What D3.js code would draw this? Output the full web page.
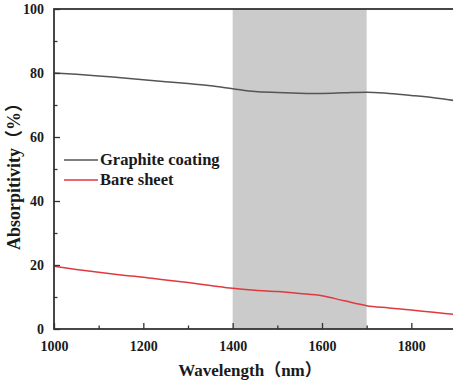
<!DOCTYPE html>
<html>
<head>
<meta charset="utf-8">
<script src="https://cdn.jsdelivr.net/npm/d3@7"></script>
<style>
  html, body { margin: 0; padding: 0; background: #fff; }
  svg { display: block; }
  text { font-family: "Liberation Serif", "Times New Roman", "Noto Sans CJK SC", serif; font-weight: bold; fill: #1a1a1a; }
</style>
</head>
<body>
<svg id="chart" width="453" height="382"></svg>
<script>
// Wavelength samples (nm)
const wavelengths = [1000, 1050, 1100, 1150, 1200, 1250, 1300, 1350, 1400, 1450, 1500, 1550, 1600, 1650, 1700, 1750, 1800, 1850, 1900];
// Absorptivity (%) of the graphite-coated sheet
const graphite = [80.0, 79.6, 79.1, 78.5, 77.9, 77.3, 76.7, 76.0, 75.1, 74.2, 73.9, 73.7, 73.6, 73.8, 74.0, 73.6, 73.0, 72.3, 71.3];
// Absorptivity (%) of the bare sheet
const bare = [19.6, 18.6, 17.7, 16.9, 16.2, 15.3, 14.5, 13.6, 12.7, 12.1, 11.7, 11.1, 10.4, 8.8, 7.3, 6.6, 5.9, 5.2, 4.5];
// Highlighted band (nm)
const band = [1400, 1700];
// Axis ticks
const xTicks = [1000, 1200, 1400, 1600, 1800];
const xMinor = [1100, 1300, 1500, 1700, 1900];
const yTicks = [0, 20, 40, 60, 80, 100];
const yMinor = [10, 30, 50, 70, 90];
const seriesNames = ["Graphite coating", "Bare sheet"];
const seriesColors = ["#555555", "#e0393e"];

const svg = d3.select("#chart");
const plotL = 54, plotR = 456, plotT = 9, plotB = 329;
const serif = "'Liberation Serif', 'Times New Roman', serif";

const x = d3.scaleLinear().domain([1000, 1900]).range([plotL, plotR]);
const y = d3.scaleLinear().domain([0, 100]).range([plotB, plotT]);

// shaded wavelength band
svg.append("rect")
  .attr("x", x(band[0])).attr("y", plotT)
  .attr("width", x(band[1]) - x(band[0])).attr("height", plotB - plotT)
  .attr("fill", "#cbcbcb");

// series lines
const line = d3.line().x((d, i) => x(wavelengths[i])).y(d => y(d)).curve(d3.curveMonotoneX);
[graphite, bare].forEach((vals, k) => {
  svg.append("path").datum(vals)
    .attr("d", line)
    .attr("fill", "none")
    .attr("stroke", seriesColors[k])
    .attr("stroke-width", 1.5);
});

// frame
svg.append("rect")
  .attr("x", plotL).attr("y", plotT)
  .attr("width", plotR - plotL).attr("height", plotB - plotT)
  .attr("fill", "none").attr("stroke", "#333").attr("stroke-width", 1.8);

function styleTicks(g) {
  g.attr("font-family", null);
  g.select(".domain").remove();
  g.selectAll("line").attr("stroke", "#333").attr("stroke-width", 1.3);
  g.selectAll("text").attr("font-size", 14).attr("fill", "#1a1a1a")
    .style("font-family", serif).style("font-weight", "bold");
}

// bottom axis, ticks pointing inward
svg.append("g").attr("transform", `translate(0,${plotB})`)
  .call(d3.axisBottom(x).tickValues(xTicks).tickFormat(d3.format("d")).tickSizeInner(-6).tickSizeOuter(0).tickPadding(12))
  .call(styleTicks);
svg.append("g").attr("transform", `translate(0,${plotB})`)
  .call(d3.axisBottom(x).tickValues(xMinor).tickFormat("").tickSizeInner(-3.5).tickSizeOuter(0))
  .call(styleTicks);

// left axis, ticks pointing inward
svg.append("g").attr("transform", `translate(${plotL},0)`)
  .call(d3.axisLeft(y).tickValues(yTicks).tickFormat(d3.format("d")).tickSizeInner(-6).tickSizeOuter(0).tickPadding(10))
  .call(styleTicks);
svg.append("g").attr("transform", `translate(${plotL},0)`)
  .call(d3.axisLeft(y).tickValues(yMinor).tickFormat("").tickSizeInner(-3.5).tickSizeOuter(0))
  .call(styleTicks);

// axis titles
svg.append("text")
  .attr("x", 250).attr("y", 376)
  .attr("text-anchor", "middle").attr("font-size", 17)
  .text("Wavelength（nm）");
svg.append("text")
  .attr("transform", `translate(20,${(plotT + plotB) / 2 + 3}) rotate(-90)`)
  .attr("text-anchor", "middle").attr("font-size", 18)
  .text("Absorpitivity（%）");

// legend
const legend = svg.append("g");
seriesNames.forEach((name, k) => {
  const ly = 160 + k * 20;
  legend.append("line")
    .attr("x1", 64).attr("x2", 98).attr("y1", ly).attr("y2", ly)
    .attr("stroke", seriesColors[k]).attr("stroke-width", 1.5);
  legend.append("text")
    .attr("x", 100).attr("y", ly + 5)
    .attr("font-size", 16.5)
    .text(name);
});
</script>
</body>
</html>
